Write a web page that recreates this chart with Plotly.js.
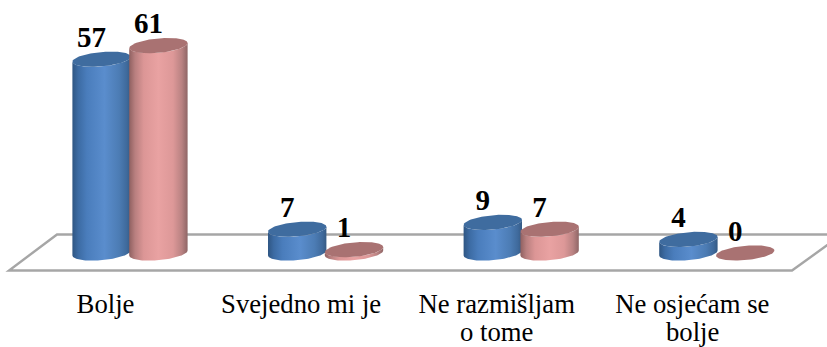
<!DOCTYPE html>
<html>
<head>
<meta charset="utf-8">
<script src="https://cdn.plot.ly/plotly-3.0.1.min.js"></script>
<style>html,body{margin:0;padding:0;background:#fff;overflow:hidden}</style>
</head>
<body>
<div id="chart" style="width:827px;height:347px"></div>
<script>
// Survey answers, two groups per category; long names wrap onto a second line
const categories = ['Bolje', 'Svejedno mi je', 'Ne razmišljam', 'Ne osjećam se'];
const categoriesLine2 = ['', '', 'o tome', 'bolje'];
const seriesBlue = [57, 7, 9, 4];
const seriesPink = [61, 1, 7, 0];

const W = 827, H = 347, marginB = 70;
const pxPerCat = 195.6, pxPerUnit = 3.4;   // scale of both axes
const xRange = [-130 / pxPerCat, (W - 130) / pxPerCat];
const yRange = [-(H - marginB - 253) / pxPerUnit, 253 / pxPerUnit];

const halfW = 29.2 / pxPerCat, halfH = 7.2 / pxPerUnit, tilt = 2.5 / pxPerUnit;
const barOffset = 28.4 / pxPerCat;
const labelFont = {family: '"Liberation Serif", serif', size: 26.7, color: '#000'};
const labelCentre = 24.5 / pxPerCat;

const blueStyle = {
  top: '#3f6c9f',
  scale: [[0, '#2f5683'], [0.1, '#3c6ba3'], [0.25, '#4a7dbc'], [0.55, '#5a8dcd'],
          [0.8, '#4c7cb4'], [0.93, '#3f6a9c'], [1, '#355a84']]
};
const pinkStyle = {
  top: '#a97272',
  scale: [[0, '#8f6060'], [0.1, '#b87f7f'], [0.25, '#dc9696'], [0.5, '#e9a2a2'],
          [0.75, '#dd9898'], [0.9, '#b98282'], [1, '#8f6666']]
};

// Point on a slightly tilted ellipse centred at (cx, level)
function ellipsePt(cx, level, a) {
  return [cx + halfW * Math.cos(a), level + tilt * Math.cos(a) + halfH * Math.sin(a)];
}
function arc(cx, level, from, to, n) {
  const pts = [];
  for (let i = 0; i <= n; i++) pts.push(ellipsePt(cx, level, from + (to - from) * i / n));
  return pts;
}
function polygon(pts) {
  return {x: pts.map(p => p[0]), y: pts.map(p => p[1])};
}

function cylinder(cx, value, style) {
  const out = [];
  // side wall: front half of the base ellipse up to the front half of the top ellipse
  const wall = arc(cx, 0, Math.PI, 2 * Math.PI, 48).concat(arc(cx, value, 2 * Math.PI, Math.PI, 48));
  if (value > 0) {
    out.push(Object.assign(polygon(wall), {
      type: 'scatter', mode: 'lines', line: {width: 0}, fill: 'toself',
      fillgradient: {type: 'horizontal', colorscale: style.scale}, hoverinfo: 'skip'
    }));
  }
  // lid
  out.push(Object.assign(polygon(arc(cx, value, 0, 2 * Math.PI, 96)), {
    type: 'scatter', mode: 'lines', line: {width: 0}, fill: 'toself',
    fillcolor: style.top, hoverinfo: 'skip'
  }));
  return out;
}

const traces = [];
seriesBlue.forEach((v, i) => traces.push(...cylinder(i - barOffset, v, blueStyle)));
seriesPink.forEach((v, i) => traces.push(...cylinder(i + barOffset, v, pinkStyle)));

// Value labels sit up and to the left of each lid
const labelShiftX = 10 / pxPerCat, labelShiftY = 19.5 / pxPerUnit;
[[seriesBlue, -barOffset], [seriesPink, barOffset]].forEach(([vals, off]) => {
  traces.push({
    type: 'scatter', mode: 'text',
    x: vals.map((v, i) => i + off - labelShiftX),
    y: vals.map(v => v + labelShiftY),
    text: vals.map(String),
    textposition: 'middle center',
    textfont: {family: '"Liberation Serif", serif', size: 29, color: '#000', weight: 700},
    hoverinfo: 'skip', cliponaxis: false
  });
});

// Perspective floor under the columns, given in picture pixels
const floorPx = [[57, 234.5], [842, 234.5], [792, 270.5], [9, 270.5]];
const plotH = H - marginB;
const floorPath = floorPx
  .map((p, i) => (i ? 'L ' : 'M ') + (p[0] / W) + ' ' + ((plotH - p[1]) / plotH))
  .join(' ') + ' Z';

// Second lines of the wrapped names, set closer than <br> would place them
const secondLines = categoriesLine2.map((t, i) => ({t, i})).filter(o => o.t).map(o => ({
  text: o.t, xref: 'x', yref: 'paper', x: o.i - labelCentre, y: 0,
  xanchor: 'center', yanchor: 'top', yshift: -39, showarrow: false,
  borderpad: 0, font: labelFont
}));

const layout = {
  width: W, height: H,
  margin: {l: 0, r: 0, t: 0, b: marginB},
  paper_bgcolor: '#fff', plot_bgcolor: 'rgba(0,0,0,0)',
  showlegend: false,
  xaxis: {
    range: xRange, showgrid: false, zeroline: false, showline: false, fixedrange: true,
    tickmode: 'array',
    tickvals: categories.map((c, i) => i - labelCentre),
    ticktext: categories,
    ticks: 'outside', ticklen: 3, tickcolor: 'rgba(0,0,0,0)',
    tickfont: labelFont
  },
  yaxis: {range: yRange, visible: false, fixedrange: true},
  annotations: secondLines,
  shapes: [{
    type: 'path', xref: 'paper', yref: 'paper', layer: 'below',
    path: floorPath,
    line: {color: '#a6a6a6', width: 2.4}, fillcolor: 'rgba(0,0,0,0)'
  }]
};

Plotly.newPlot('chart', traces, layout, {displayModeBar: false, staticPlot: true});
</script>
</body>
</html>
